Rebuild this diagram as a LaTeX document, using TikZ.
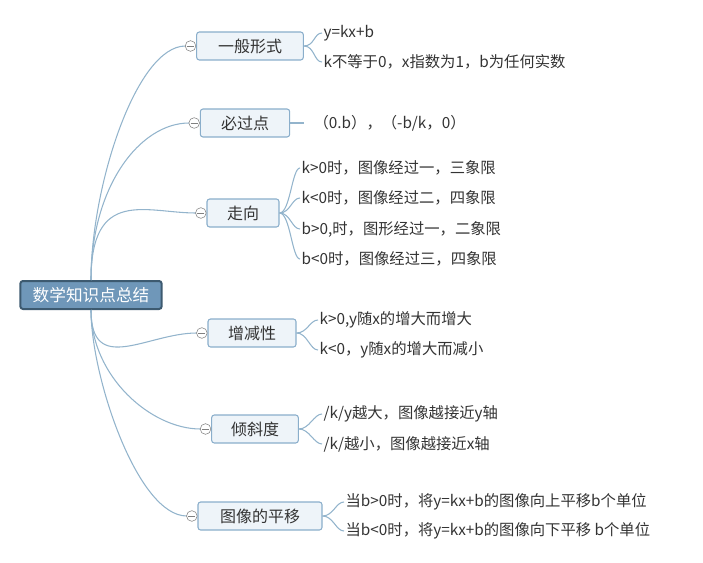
\documentclass[tikz,border=0pt]{standalone}
\usepackage{fontspec}
\setmainfont{Noto Sans CJK SC}
\usetikzlibrary{positioning}
\definecolor{rootfill}{HTML}{6F97B9}
\definecolor{rootline}{HTML}{3D5A70}
\definecolor{topicfill}{HTML}{EEF4F9}
\definecolor{topicline}{HTML}{8AAECB}
\definecolor{linkline}{HTML}{93B4CC}
\definecolor{txt}{HTML}{333333}
\tikzset{
  root/.style={draw=rootline, fill=rootfill, line width=1.5pt, rounded corners=2pt, text=white, minimum width=106pt, minimum height=21pt, inner xsep=2pt, font=\fontsize{12.5}{14}\selectfont},
  topic/.style={draw=topicline, fill=topicfill, line width=0.8pt, rounded corners=2pt, text=txt, minimum height=21pt, font=\fontsize{12}{14}\selectfont},
  leaf/.style={anchor=west, text=txt, inner sep=1pt, font=\fontsize{11.5}{13}\selectfont},
  fold/.style={circle, draw=gray, fill=white, inner sep=0pt, minimum size=8pt,
    append after command={(\tikzlastnode.west) edge[draw=gray, shorten <=1.5pt, shorten >=1.5pt] (\tikzlastnode.east)}},
  link/.style={draw=linkline, line width=0.8pt},
}
\begin{document}
\begin{tikzpicture}[x=0.75pt, y=-0.75pt]
  \useasboundingbox (0,0) rectangle (703,563);
  \node[root] (root) at (91,295) {数学知识点总结};

  \node[topic, minimum width=80pt] (form) at (250,46) {一般形式};
  \node[topic, minimum width=67pt] (point) at (245,123) {必过点};
  \node[topic, minimum width=54pt] (trend) at (243,213) {走向};
  \node[topic, minimum width=66pt] (mono) at (252,333) {增减性};
  \node[topic, minimum width=65pt] (slope) at (255,429) {倾斜度};
  \node[topic, minimum width=93pt] (shift) at (260,516) {图像的平移};

  % root links
  \foreach \t in {form,point,trend}
    \draw[link] (root.north) .. controls ([yshift=70pt]root.north) and ([xshift=-45pt]\t.west) .. ([xshift=-8pt]\t.west);
  \foreach \t in {mono,slope,shift}
    \draw[link] (root.south) .. controls ([yshift=-50pt]root.south) and ([xshift=-45pt]\t.west) .. ([xshift=-8pt]\t.west);

  % fold markers
  \foreach \t in {form,point,trend,mono,slope,shift}
    \node[fold, left=0pt of \t] (f\t) {};

  % leaves
  \node[leaf] (form1) at (322,33) {y=kx+b};
  \node[leaf] (form2) at (322,62) {k不等于0，x指数为1，b为任何实数};
  \node[leaf] (point1) at (312,123) {（0.b），（-b/k，0）};
  \node[leaf] (trend1) at (300,168) {k>0时，图像经过一，三象限};
  \node[leaf] (trend2) at (300,198) {k<0时，图像经过二，四象限};
  \node[leaf] (trend3) at (300,229) {b>0,时，图形经过一，二象限};
  \node[leaf] (trend4) at (300,259) {b<0时，图像经过三，四象限};
  \node[leaf] (mono1) at (318,320) {k>0,y随x的增大而增大};
  \node[leaf] (mono2) at (318,350) {k<0，y随x的增大而减小};
  \node[leaf] (slope1) at (322,414) {/k/y越大，图像越接近y轴};
  \node[leaf] (slope2) at (322,444) {/k/越小，图像越接近x轴};
  \node[leaf] (shift1) at (344,502) {当b>0时，将y=kx+b的图像向上平移b个单位};
  \node[leaf] (shift2) at (344,531) {当b<0时，将y=kx+b的图像向下平移 b个单位};

  % leaf links
  \draw[link] (point.east) -- ([xshift=10pt]point.east);
  \foreach \t/\n in {form/form1,form/form2,trend/trend1,trend/trend2,trend/trend3,trend/trend4,mono/mono1,mono/mono2,slope/slope1,slope/slope2,shift/shift1,shift/shift2}
    \draw[link] (\t.east) .. controls ([xshift=8pt]\t.east) and ([xshift=-6pt]\n.west) .. (\n.west);
\end{tikzpicture}
\end{document}
